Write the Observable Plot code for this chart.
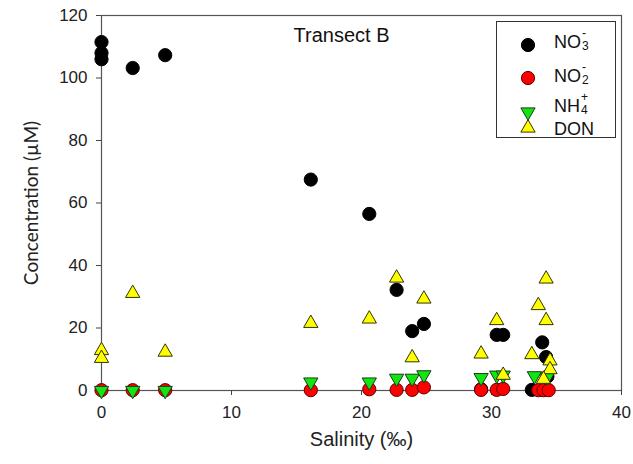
<!DOCTYPE html>
<html>
<head>
<meta charset="utf-8">
<script src="https://cdn.jsdelivr.net/npm/d3@7"></script>
<script src="https://cdn.jsdelivr.net/npm/@observablehq/plot@0.6"></script>
<style>
  body { margin: 0; background: #fff; }
  #wrap { position: relative; width: 633px; height: 464px; font-family: "Liberation Sans", Arial, sans-serif; }
  #legend { position: absolute; left: 496px; top: 21px; width: 120px; height: 117px; border: 1px solid #333; box-sizing: border-box; background: #fff; }
  .sym { position: absolute; left: 22px; }
  .lab { position: absolute; left: 57px; font-size: 18px; line-height: 18px; height: 18px; color: #111; white-space: nowrap; }
  .ss { position: relative; display: inline-block; width: 9px; height: 18px; vertical-align: top; font-size: 12px; line-height: 11px; }
  .ss .sp { position: absolute; left: 1px; top: -5px; }
  .ss .sb { position: absolute; left: 1px; top: 8px; }
</style>
</head>
<body>
<div id="wrap"><div id="legend"></div></div>
<script>
// ---- data ----
const no3Sal = [0, 0, 0, 2.4, 4.9, 16.1, 20.6, 22.7, 23.9, 24.8, 29.2, 30.4, 30.9, 33.1, 33.9, 34.2, 34.3];
const no3Val = [111.5, 108, 106, 103.2, 107.3, 67.5, 56.5, 32.2, 19.0, 21.3, 0.4, 17.8, 17.8, 0.2, 15.4, 10.7, 4.5];

const no2Sal = [0, 2.4, 4.9, 16.1, 20.6, 22.7, 23.9, 24.8, 29.2, 30.4, 30.9, 33.6, 34.0, 34.4];
const no2Val = [0.1, 0.1, 0.1, 0.1, 0.4, 0.2, 0.2, 1.0, 0.2, 0.2, 0.5, 0.1, 0.1, 0.1];

const nh4Sal = [0, 2.4, 4.9, 16.1, 20.6, 22.7, 23.9, 24.8, 29.2, 30.4, 30.9, 33.3, 34.3];
const nh4Val = [0, 0, 0, 2.7, 2.7, 3.9, 3.9, 5.0, 4.1, 4.9, 4.9, 4.7, 4.3];

const donSal = [0, 0, 2.4, 4.9, 16.1, 20.6, 22.7, 23.9, 24.8, 29.2, 30.4, 30.9, 33.1, 33.6, 34.2, 34.2, 34.5, 34.5, 34.0];
const donVal = [12.8, 10.3, 31.1, 12.3, 21.5, 22.9, 36.0, 10.5, 29.3, 11.7, 22.4, 4.9, 11.5, 27.2, 35.7, 22.4, 9.5, 6.7, 3.6];

const xTicks = [0, 10, 20, 30, 40];
const yTicks = [0, 20, 40, 60, 80, 100, 120];

const title = "Transect B";
const xLabel = "Salinity (‰)";
const yLabel = "Concentration (µM)";

const seriesNames = ["NO3", "NO2", "NH4", "DON"];
const seriesLabels = [
  'NO<span class="ss"><span class="sp">-</span><span class="sb">3</span></span>',
  'NO<span class="ss"><span class="sp">-</span><span class="sb">2</span></span>',
  'NH<span class="ss"><span class="sp">+</span><span class="sb">4</span></span>',
  'DON'
];

// ---- build tables ----
const toRows = (xs, ys) => xs.map((x, i) => ({x, y: ys[i]}));
const no3 = toRows(no3Sal, no3Val);
const no2 = toRows(no2Sal, no2Val);
const nh4 = toRows(nh4Sal, nh4Val);
const don = toRows(donSal, donVal);

const styles = {
  NO3: {symbol: "circle", r: 6.6, fill: "#000000", stroke: "#000000", rotate: 0},
  NO2: {symbol: "circle", r: 6.6, fill: "#ff0000", stroke: "#5a0000", rotate: 0},
  NH4: {symbol: "triangle", r: 5.3, fill: "#11e611", stroke: "#1a3a1a", rotate: 180},
  DON: {symbol: "triangle", r: 5.3, fill: "#ffff00", stroke: "#333300", rotate: 0}
};

const dotMark = (data, s) => Plot.dot(data, {x: "x", y: "y", symbol: s.symbol, r: s.r, fill: s.fill, stroke: s.stroke, strokeWidth: 1, rotate: s.rotate});

const chart = Plot.plot({
  width: 633,
  height: 464,
  marginLeft: 101,
  marginRight: 12,
  marginTop: 15,
  marginBottom: 74,
  style: {fontFamily: '"Liberation Sans", Arial, sans-serif', fontSize: "17px", color: "#222", background: "#fff", overflow: "visible"},
  x: {domain: [0, 40]},
  y: {domain: [0, 120]},
  marks: [
    Plot.frame({stroke: "#555", strokeWidth: 1.2}),
    Plot.axisX({ticks: xTicks, tickSize: 5, tickPadding: 10, label: null, fontSize: 17, stroke: "#444"}),
    Plot.axisY({ticks: yTicks, tickSize: 5, tickPadding: 9, label: null, fontSize: 17, stroke: "#444"}),
    dotMark(no3, styles.NO3),
    dotMark(no2, styles.NO2),
    dotMark(nh4, styles.NH4),
    dotMark(don, styles.DON),
    Plot.text([title], {frameAnchor: "top", lineAnchor: "middle", textAnchor: "middle", dx: -20, dy: 20, fontSize: 20, fill: "#111"}),
    Plot.text([xLabel], {frameAnchor: "bottom", lineAnchor: "middle", textAnchor: "middle", dy: 49, fontSize: 20, fill: "#222"}),
    Plot.text([yLabel], {frameAnchor: "left", lineAnchor: "middle", textAnchor: "middle", rotate: -90, dx: -70, fontSize: 19, fill: "#222", fontFamily: "Lato, sans-serif"})
  ]
});
document.getElementById("wrap").prepend(chart);

// ---- legend ----
const legend = document.getElementById("legend");
const symY = [23, 56, 90, 106];   // symbol centres inside the legend box
const labY = [20, 54, 84, 107];   // label centres inside the legend box
seriesNames.forEach((name, i) => {
  const s = styles[name];
  const sym = d3.create("svg").attr("class", "sym").attr("width", 18).attr("height", 18)
    .style("top", (symY[i] - 9) + "px");
  const sym0 = s.symbol === "circle" ? d3.symbolCircle : d3.symbolTriangle;
  sym.append("path")
    .attr("d", d3.symbol(sym0, Math.PI * s.r * s.r)())
    .attr("transform", `translate(9,9) rotate(${s.rotate})`)
    .attr("fill", s.fill).attr("stroke", s.stroke).attr("stroke-width", 1);
  legend.appendChild(sym.node());
  const lab = document.createElement("div");
  lab.className = "lab";
  lab.style.top = (labY[i] - 9) + "px";
  lab.innerHTML = seriesLabels[i];
  legend.appendChild(lab);
});
</script>
</body>
</html>
